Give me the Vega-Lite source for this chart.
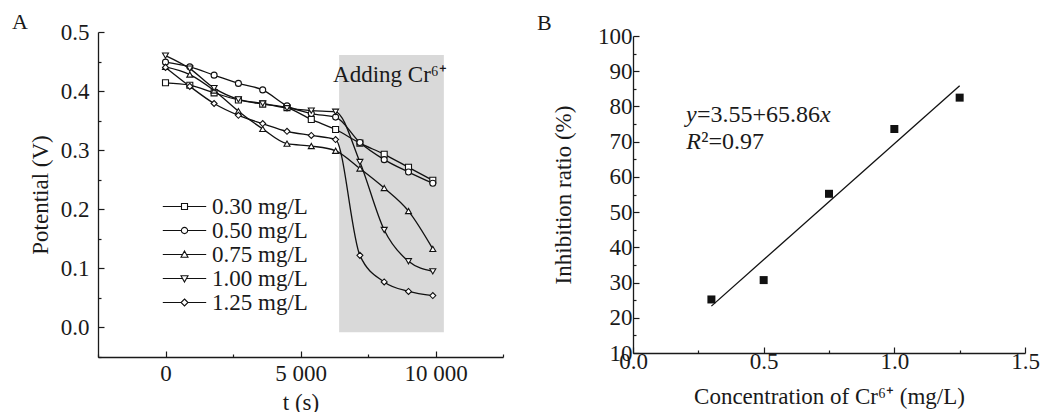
{
  "$schema": "https://vega.github.io/schema/vega-lite/v6.json",
  "background": "white",
  "padding": {"left": 12, "top": 10, "right": 5, "bottom": 2},
  "config": {
    "view": {"stroke": null},
    "font": "Liberation Serif",
    "axis": {
      "labelFont": "Liberation Serif", "titleFont": "Liberation Serif",
      "labelFontSize": 23, "titleFontSize": 23, "titleFontWeight": "normal",
      "labelColor": "#1a1a1a", "titleColor": "#1a1a1a",
      "domainColor": "#1a1a1a", "tickColor": "#1a1a1a",
      "domainWidth": 1.3, "tickWidth": 1.2, "grid": false,
      "labelFlush": false, "labelOverlap": false
    },
    "title": {"font": "Liberation Serif", "fontSize": 22, "fontWeight": "normal", "anchor": "start", "frame": "group", "color": "#1a1a1a", "baseline": "alphabetic"},
    "legend": {"labelFont": "Liberation Serif", "labelFontSize": 23, "labelColor": "#1a1a1a"}
  },
  "datasets": {
    "series": [
      {"s": "0.30 mg/L", "t": 0, "v": 0.414}, {"s": "0.30 mg/L", "t": 900, "v": 0.410}, {"s": "0.30 mg/L", "t": 1800, "v": 0.397}, {"s": "0.30 mg/L", "t": 2700, "v": 0.385}, {"s": "0.30 mg/L", "t": 3600, "v": 0.378}, {"s": "0.30 mg/L", "t": 4500, "v": 0.372}, {"s": "0.30 mg/L", "t": 5400, "v": 0.352}, {"s": "0.30 mg/L", "t": 6300, "v": 0.335}, {"s": "0.30 mg/L", "t": 7200, "v": 0.312}, {"s": "0.30 mg/L", "t": 8100, "v": 0.293}, {"s": "0.30 mg/L", "t": 9000, "v": 0.271}, {"s": "0.30 mg/L", "t": 9900, "v": 0.249},
      {"s": "0.50 mg/L", "t": 0, "v": 0.449}, {"s": "0.50 mg/L", "t": 900, "v": 0.441}, {"s": "0.50 mg/L", "t": 1800, "v": 0.427}, {"s": "0.50 mg/L", "t": 2700, "v": 0.413}, {"s": "0.50 mg/L", "t": 3600, "v": 0.402}, {"s": "0.50 mg/L", "t": 4500, "v": 0.375}, {"s": "0.50 mg/L", "t": 5400, "v": 0.362}, {"s": "0.50 mg/L", "t": 6300, "v": 0.356}, {"s": "0.50 mg/L", "t": 7200, "v": 0.313}, {"s": "0.50 mg/L", "t": 8100, "v": 0.284}, {"s": "0.50 mg/L", "t": 9000, "v": 0.263}, {"s": "0.50 mg/L", "t": 9900, "v": 0.244},
      {"s": "0.75 mg/L", "t": 0, "v": 0.441}, {"s": "0.75 mg/L", "t": 900, "v": 0.428}, {"s": "0.75 mg/L", "t": 1800, "v": 0.401}, {"s": "0.75 mg/L", "t": 2700, "v": 0.366}, {"s": "0.75 mg/L", "t": 3600, "v": 0.336}, {"s": "0.75 mg/L", "t": 4500, "v": 0.311}, {"s": "0.75 mg/L", "t": 5400, "v": 0.307}, {"s": "0.75 mg/L", "t": 6300, "v": 0.299}, {"s": "0.75 mg/L", "t": 7200, "v": 0.269}, {"s": "0.75 mg/L", "t": 8100, "v": 0.236}, {"s": "0.75 mg/L", "t": 9000, "v": 0.197}, {"s": "0.75 mg/L", "t": 9900, "v": 0.133},
      {"s": "1.00 mg/L", "t": 0, "v": 0.460}, {"s": "1.00 mg/L", "t": 900, "v": 0.438}, {"s": "1.00 mg/L", "t": 1800, "v": 0.405}, {"s": "1.00 mg/L", "t": 2700, "v": 0.386}, {"s": "1.00 mg/L", "t": 3600, "v": 0.379}, {"s": "1.00 mg/L", "t": 4500, "v": 0.371}, {"s": "1.00 mg/L", "t": 5400, "v": 0.367}, {"s": "1.00 mg/L", "t": 6300, "v": 0.365}, {"s": "1.00 mg/L", "t": 7200, "v": 0.280}, {"s": "1.00 mg/L", "t": 8100, "v": 0.165}, {"s": "1.00 mg/L", "t": 9000, "v": 0.112}, {"s": "1.00 mg/L", "t": 9900, "v": 0.095},
      {"s": "1.25 mg/L", "t": 0, "v": 0.440}, {"s": "1.25 mg/L", "t": 900, "v": 0.408}, {"s": "1.25 mg/L", "t": 1800, "v": 0.379}, {"s": "1.25 mg/L", "t": 2700, "v": 0.359}, {"s": "1.25 mg/L", "t": 3600, "v": 0.345}, {"s": "1.25 mg/L", "t": 4500, "v": 0.332}, {"s": "1.25 mg/L", "t": 5400, "v": 0.325}, {"s": "1.25 mg/L", "t": 6300, "v": 0.318}, {"s": "1.25 mg/L", "t": 7200, "v": 0.122}, {"s": "1.25 mg/L", "t": 8100, "v": 0.077}, {"s": "1.25 mg/L", "t": 9000, "v": 0.061}, {"s": "1.25 mg/L", "t": 9900, "v": 0.054}
    ],
    "inhib": [
      {"c": 0.3, "r": 25.2}, {"c": 0.5, "r": 30.7}, {"c": 0.75, "r": 55.2}, {"c": 1.0, "r": 73.6}, {"c": 1.25, "r": 82.5}
    ],
    "fit": [
      {"c": 0.3, "r": 23.31}, {"c": 1.25, "r": 85.88}
    ]
  },
  "hconcat": [
    {
      "width": 405, "height": 325,
      "title": {"text": "A", "dx": -86, "offset": -12.6},
      "layer": [
        {
          "data": {"values": [{"t0": 6430, "t1": 10310, "v0": -0.008, "v1": 0.461}]},
          "mark": {"type": "rect", "color": "#d9d9d9"},
          "encoding": {
            "x": {"field": "t0", "type": "quantitative", "scale": {"domain": [-2500, 12500], "nice": false, "zero": false},
                  "axis": {"orient": "bottom", "values": [0, 5000, 10000], "title": "t (s)", "tickSize": -6, "labelPadding": 11, "titlePadding": 6,
                           "labelExpr": "datum.value == 0 ? '0' : format(datum.value / 1000, 'd') + ' 000'"}},
            "x2": {"field": "t1"},
            "y": {"field": "v0", "type": "quantitative", "scale": {"domain": [-0.05, 0.5], "nice": false, "zero": false},
                  "axis": {"orient": "left", "values": [0, 0.1, 0.2, 0.3, 0.4, 0.5], "format": ".1f", "title": "Potential (V)", "tickSize": -6, "labelPadding": 15, "titlePadding": 8}},
            "y2": {"field": "v1"}
          }
        },
        {
          "data": {"name": "series"},
          "mark": {"type": "line", "interpolate": "monotone", "color": "#111111", "strokeWidth": 1.3},
          "encoding": {
            "x": {"field": "t", "type": "quantitative", "axis": {"orient": "bottom", "values": [-2500, 2500, 7500, 12500], "labels": false, "domain": false, "title": null, "tickSize": -3}},
            "y": {"field": "v", "type": "quantitative", "axis": {"orient": "left", "values": [-0.05, 0.05, 0.15, 0.25, 0.35, 0.45], "labels": false, "domain": false, "title": null, "tickSize": -3}},
            "detail": {"field": "s"}
          }
        },
        {
          "data": {"name": "series"},
          "mark": {"type": "point", "filled": true, "fill": "white", "stroke": "#111111", "strokeWidth": 1.1, "size": 36, "opacity": 1},
          "encoding": {
            "x": {"field": "t", "type": "quantitative", "axis": null},
            "y": {"field": "v", "type": "quantitative", "axis": null},
            "shape": {"field": "s", "type": "nominal",
              "scale": {"domain": ["0.30 mg/L", "0.50 mg/L", "0.75 mg/L", "1.00 mg/L", "1.25 mg/L"], "range": ["square", "circle", "triangle-up", "triangle-down", "diamond"]},
              "legend": null
            }
          }
        },
        {
          "data": {"name": "series"},
          "mark": {"type": "point", "filled": false, "stroke": "#111111", "strokeWidth": 1.1, "size": 36, "opacity": 0},
          "encoding": {
            "x": {"field": "t", "type": "quantitative", "axis": null},
            "y": {"field": "v", "type": "quantitative", "axis": null},
            "shape": {"field": "s", "type": "nominal",
              "scale": {"domain": ["0.30 mg/L", "0.50 mg/L", "0.75 mg/L", "1.00 mg/L", "1.25 mg/L"],
                        "range": ["M-3.1,0H-0.43M0.43,0H3.1M-0.43,-0.43H0.43V0.43H-0.43Z",
                                  "M-3.1,0H-0.45M0.45,0H3.1M-0.45,0A0.45,0.45,0,1,0,0.45,0A0.45,0.45,0,1,0,-0.45,0Z",
                                  "M-3.1,0H-0.28M0.28,0H3.1M0,-0.5L0.5,0.4H-0.5Z",
                                  "M-3.1,0H-0.28M0.28,0H3.1M0,0.5L0.5,-0.4H-0.5Z",
                                  "M-3.1,0H-0.5M0.5,0H3.1M0,-0.5L0.5,0L0,0.5L-0.5,0Z"]},
              "legend": {
                "title": null, "orient": "none", "legendX": 75, "legendY": 163,
                "labelOffset": 16, "rowPadding": 0, "symbolSize": 196,
                "symbolOpacity": 1, "symbolStrokeColor": "#111111", "symbolStrokeWidth": 1.1
              }
            }
          }
        },
        {
          "data": {"values": [{"t": 6208, "v": 0.416, "label": "Adding Cr⁶⁺"}]},
          "mark": {"type": "text", "align": "left", "baseline": "alphabetic", "fontSize": 23, "font": "Liberation Serif", "color": "#1a1a1a"},
          "encoding": {
            "x": {"field": "t", "type": "quantitative", "axis": null},
            "y": {"field": "v", "type": "quantitative", "axis": null},
            "text": {"field": "label"}
          }
        }
      ],
      "resolve": {"axis": {"x": "independent", "y": "independent"}, "scale": {"shape": "independent"}}
    },
    {
      "width": 392, "height": 317,
      "title": {"text": "B", "dx": -96, "offset": -10},
      "layer": [
        {
          "data": {"name": "inhib"},
          "mark": {"type": "square", "size": 64, "color": "#111111", "opacity": 1},
          "encoding": {
            "x": {"field": "c", "type": "quantitative", "scale": {"domain": [0, 1.5], "nice": false, "zero": false},
                  "axis": {"orient": "bottom", "values": [0, 0.5, 1.0, 1.5], "format": ".1f", "title": "Concentration of Cr⁶⁺  (mg/L)", "tickSize": -6, "labelPadding": 3, "titlePadding": 12}},
            "y": {"field": "r", "type": "quantitative", "scale": {"domain": [10, 100], "nice": false, "zero": false},
                  "axis": {"orient": "left", "values": [10, 20, 30, 40, 50, 60, 70, 80, 90, 100], "format": "d", "title": "Inhibition ratio (%)", "tickSize": -6, "labelPadding": 7, "titlePadding": 22}}
          }
        },
        {
          "data": {"name": "fit"},
          "mark": {"type": "line", "color": "#111111", "strokeWidth": 1.3},
          "encoding": {
            "x": {"field": "c", "type": "quantitative", "axis": {"orient": "bottom", "values": [0.25, 0.75, 1.25], "labels": false, "domain": false, "title": null, "tickSize": -3}},
            "y": {"field": "r", "type": "quantitative", "axis": {"orient": "left", "values": [15, 25, 35, 45, 55, 65, 75, 85, 95], "labels": false, "domain": false, "title": null, "tickSize": -3}}
          }
        },
        {
          "data": {"values": [{"c": 0.203, "r": 75.6, "label": "y"}, {"c": 0.204, "r": 67.8, "label": "R"}]},
          "mark": {"type": "text", "align": "left", "baseline": "alphabetic", "fontSize": 24, "font": "Liberation Serif", "fontStyle": "italic", "color": "#1a1a1a"},
          "encoding": {
            "x": {"field": "c", "type": "quantitative", "axis": null},
            "y": {"field": "r", "type": "quantitative", "axis": null},
            "text": {"field": "label"}
          }
        },
        {
          "data": {"values": [{"c": 0.203, "r": 75.6, "label": "=3.55+65.86"}]},
          "mark": {"type": "text", "align": "left", "baseline": "alphabetic", "fontSize": 24, "font": "Liberation Serif", "dx": 11, "color": "#1a1a1a"},
          "encoding": {
            "x": {"field": "c", "type": "quantitative", "axis": null},
            "y": {"field": "r", "type": "quantitative", "axis": null},
            "text": {"field": "label"}
          }
        },
        {
          "data": {"values": [{"c": 0.203, "r": 75.6, "label": "x"}]},
          "mark": {"type": "text", "align": "left", "baseline": "alphabetic", "fontSize": 24, "font": "Liberation Serif", "fontStyle": "italic", "dx": 134, "color": "#1a1a1a"},
          "encoding": {
            "x": {"field": "c", "type": "quantitative", "axis": null},
            "y": {"field": "r", "type": "quantitative", "axis": null},
            "text": {"field": "label"}
          }
        },
        {
          "data": {"values": [{"c": 0.204, "r": 67.8, "label": "²=0.97"}]},
          "mark": {"type": "text", "align": "left", "baseline": "alphabetic", "fontSize": 24, "font": "Liberation Serif", "dx": 15, "color": "#1a1a1a"},
          "encoding": {
            "x": {"field": "c", "type": "quantitative", "axis": null},
            "y": {"field": "r", "type": "quantitative", "axis": null},
            "text": {"field": "label"}
          }
        }
      ],
      "resolve": {"axis": {"x": "independent", "y": "independent"}}
    }
  ],
  "spacing": 130,
  "bounds": "flush",
  "center": true
}
